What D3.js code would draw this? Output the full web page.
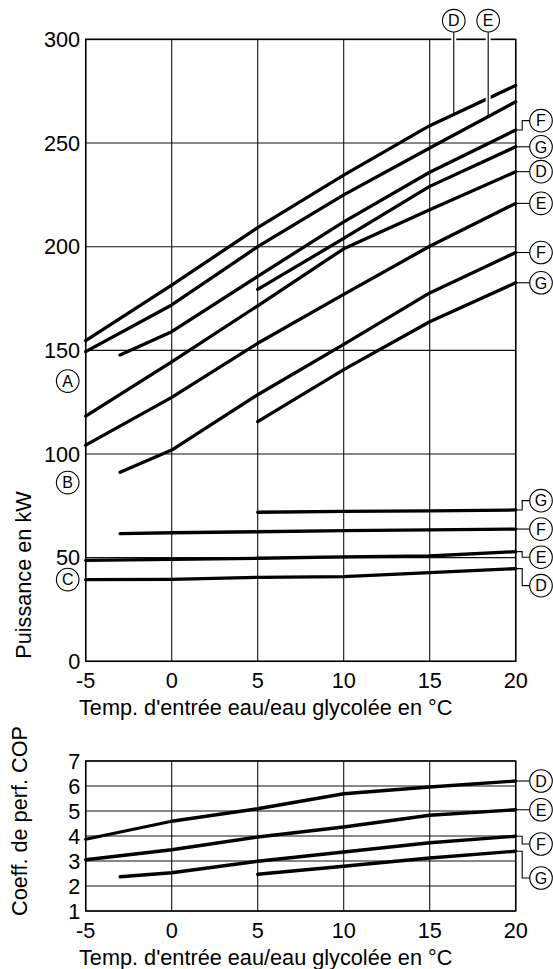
<!DOCTYPE html>
<html>
<head>
<meta charset="utf-8">
<script src="https://cdn.jsdelivr.net/npm/d3@7"></script>
<style>
  body { margin: 0; background: #fff; }
  svg { display: block; font-family: "Liberation Sans", Arial, sans-serif; }
</style>
</head>
<body>
<script>
// inlet temperature (°C)
var temps = [-5, 0, 5, 10, 15, 20];
var tempsF = [-3, 0, 5, 10, 15, 20];
var tempsG = [5, 10, 15, 20];

// heating power in kW, group A (top), B (middle), C (bottom)
var powerAD = [154.7, 181.5, 209.2, 234.5, 258.4, 277.8];
var powerAE = [149.4, 171.9, 200, 225, 247.6, 269.9];
var powerAF = [147.7, 159, 185.7, 212, 235.9, 256.3];
var powerAG = [179.4, 204, 229.1, 248.2];
var powerBD = [118.3, 144.4, 171.5, 199, 217.8, 236.2];
var powerBE = [104.3, 127.3, 153.4, 177, 200.2, 220.9];
var powerBF = [91.2, 101.9, 128.6, 152.9, 177.7, 197.2];
var powerBG = [115.6, 140.7, 163.8, 182.6];
var powerCD = [39.4, 39.5, 40.5, 40.8, 42.8, 44.7];
var powerCE = [48.7, 49.2, 49.7, 50.4, 50.8, 52.9];
var powerCF = [61.6, 62, 62.5, 63, 63.4, 63.8];
var powerCG = [71.9, 72.3, 72.6, 73.0];

// coefficient of performance
var copD = [3.87, 4.59, 5.09, 5.69, 5.96, 6.2];
var copE = [3.05, 3.45, 3.96, 4.36, 4.83, 5.05];
var copF = [2.37, 2.53, 2.99, 3.36, 3.73, 3.99];
var copG = [2.47, 2.79, 3.12, 3.39];

var xTicks = [-5, 0, 5, 10, 15, 20];
var powerTicks = [0, 50, 100, 150, 200, 250, 300];
var copTicks = [1, 2, 3, 4, 5, 6, 7];

var xTitle = "Temp. d'entrée eau/eau glycolée en °C";
var powerTitle = "Puissance en kW";
var copTitle = "Coeff. de perf. COP";

// series: x values, y values, letter, value where the right label sits
var powerSeries = [
  {xs: temps,  ys: powerAD, letter: "D", label: null},
  {xs: temps,  ys: powerAE, letter: "E", label: null},
  {xs: tempsF, ys: powerAF, letter: "F", label: 260.8},
  {xs: tempsG, ys: powerAG, letter: "G", label: 248.2},
  {xs: temps,  ys: powerBD, letter: "D", label: 236.2},
  {xs: temps,  ys: powerBE, letter: "E", label: 220.9},
  {xs: tempsF, ys: powerBF, letter: "F", label: 197.2},
  {xs: tempsG, ys: powerBG, letter: "G", label: 182.6},
  {xs: tempsG, ys: powerCG, letter: "G", label: 77.5},
  {xs: tempsF, ys: powerCF, letter: "F", label: 63.8},
  {xs: temps,  ys: powerCE, letter: "E", label: 50.2},
  {xs: temps,  ys: powerCD, letter: "D", label: 36.5}
];
// top labels D and E point down to the first two lines
var topLabels = [
  {series: 0, letter: "D", t: 16.4},
  {series: 1, letter: "E", t: 18.4}
];
// group letters on the left
var groupLetters = ["A", "B", "C"];
var groupValues = [135.2, 86.2, 39.4];

var copSeries = [
  {xs: temps,  ys: copD, letter: "D", label: 6.2},
  {xs: temps,  ys: copE, letter: "E", label: 5.05},
  {xs: tempsF, ys: copF, letter: "F", label: 3.68},
  {xs: tempsG, ys: copG, letter: "G", label: 2.32}
];

var W = 553, H = 969;
var svg = d3.select("body").append("svg")
    .attr("width", W)
    .attr("height", H);

var x = d3.scaleLinear().domain([-5, 20]).range([85.7, 515.7]);
var yP = d3.scaleLinear().domain([0, 300]).range([661.3, 39.4]);
var yC = d3.scaleLinear().domain([1, 7]).range([911, 761]);

var fs = 21.7, r = 11.3, labelX = 541;

function panel(y, yTicks) {
  var g = svg.append("g");
  // grid
  g.selectAll(".vg").data(xTicks).enter().append("line")
      .attr("x1", function(d) { return x(d); })
      .attr("x2", function(d) { return x(d); })
      .attr("y1", y.range()[0]).attr("y2", y.range()[1])
      .attr("stroke", "#111").attr("stroke-width", 1.1);
  g.selectAll(".hg").data(yTicks).enter().append("line")
      .attr("x1", x.range()[0]).attr("x2", x.range()[1])
      .attr("y1", function(d) { return y(d); })
      .attr("y2", function(d) { return y(d); })
      .attr("stroke", "#111").attr("stroke-width", 1.1);
  g.append("rect")
      .attr("x", x.range()[0]).attr("y", y.range()[1])
      .attr("width", x.range()[1] - x.range()[0])
      .attr("height", y.range()[0] - y.range()[1])
      .attr("fill", "none").attr("stroke", "#000").attr("stroke-width", 1.5);
  // tick labels
  g.selectAll(".yt").data(yTicks).enter().append("text")
      .attr("x", x.range()[0] - 5.5)
      .attr("y", function(d) { return y(d); })
      .attr("dy", ".35em")
      .attr("text-anchor", "end")
      .attr("font-size", fs)
      .text(function(d) { return d; });
  g.selectAll(".xt").data(xTicks).enter().append("text")
      .attr("x", function(d) { return x(d); })
      .attr("y", y.range()[0] + 27)
      .attr("text-anchor", "middle")
      .attr("font-size", fs)
      .text(function(d) { return d; });
  g.append("text")
      .attr("x", 79)
      .attr("y", y.range()[0] + 54)
      .attr("font-size", fs)
      .text(xTitle);
  return g;
}

function circleLabel(cx, cy, letter) {
  svg.append("circle")
      .attr("cx", cx).attr("cy", cy).attr("r", r)
      .attr("fill", "#fff").attr("stroke", "#000").attr("stroke-width", 1.1);
  svg.append("text")
      .attr("x", cx).attr("y", cy)
      .attr("dy", ".36em")
      .attr("text-anchor", "middle")
      .attr("font-size", 16)
      .text(letter);
}

function drawSeries(series, y) {
  var line = d3.line()
      .x(function(d) { return x(d[0]); })
      .y(function(d) { return y(d[1]); });
  svg.append("g").selectAll("path")
      .data(series).enter().append("path")
      .attr("d", function(s) { return line(d3.zip(s.xs, s.ys)); })
      .attr("fill", "none")
      .attr("stroke", "#000")
      .attr("stroke-width", 3.3)
      .attr("stroke-linecap", "round")
      .attr("stroke-linejoin", "round");

  series.forEach(function(s) {
    if (s.label === null) return;
    var ex = x(s.xs[s.xs.length - 1]), ey = y(s.ys[s.ys.length - 1]);
    var ly = y(s.label);
    var p = Math.abs(ly - ey) < 1.5
        ? "M" + ex + "," + ey + "H" + (labelX - r)
        : "M" + ex + "," + ey + "H" + (ex + 6.5) + "V" + ly + "H" + (labelX - r);
    svg.append("path").attr("d", p)
        .attr("fill", "none").attr("stroke", "#000").attr("stroke-width", 1.1);
    circleLabel(labelX, ly, s.letter);
  });
}

// power panel
panel(yP, powerTicks);
drawSeries(powerSeries, yP);

topLabels.forEach(function(t) {
  var s = powerSeries[t.series];
  var v = d3.scaleLinear().domain(s.xs).range(s.ys)(t.t);
  var cx = x(t.t), cy = 20.7;
  svg.append("line")
      .attr("x1", cx).attr("x2", cx)
      .attr("y1", cy + r).attr("y2", yP(v) - 3)
      .attr("stroke", "#fff").attr("stroke-width", 5);
  svg.append("line")
      .attr("x1", cx).attr("x2", cx)
      .attr("y1", cy + r).attr("y2", yP(v))
      .attr("stroke", "#000").attr("stroke-width", 1.1);
  circleLabel(cx, cy, t.letter);
});

groupLetters.forEach(function(l, i) {
  circleLabel(x(-5) - 18, yP(groupValues[i]), l);
});

svg.append("text")
    .attr("transform", "translate(31,575) rotate(-90)")
    .attr("text-anchor", "middle")
    .attr("font-size", fs)
    .text(powerTitle);

// COP panel
panel(yC, copTicks);
drawSeries(copSeries, yC);

svg.append("text")
    .attr("transform", "translate(27,821) rotate(-90)")
    .attr("text-anchor", "middle")
    .attr("font-size", fs)
    .text(copTitle);
</script>
</body>
</html>
